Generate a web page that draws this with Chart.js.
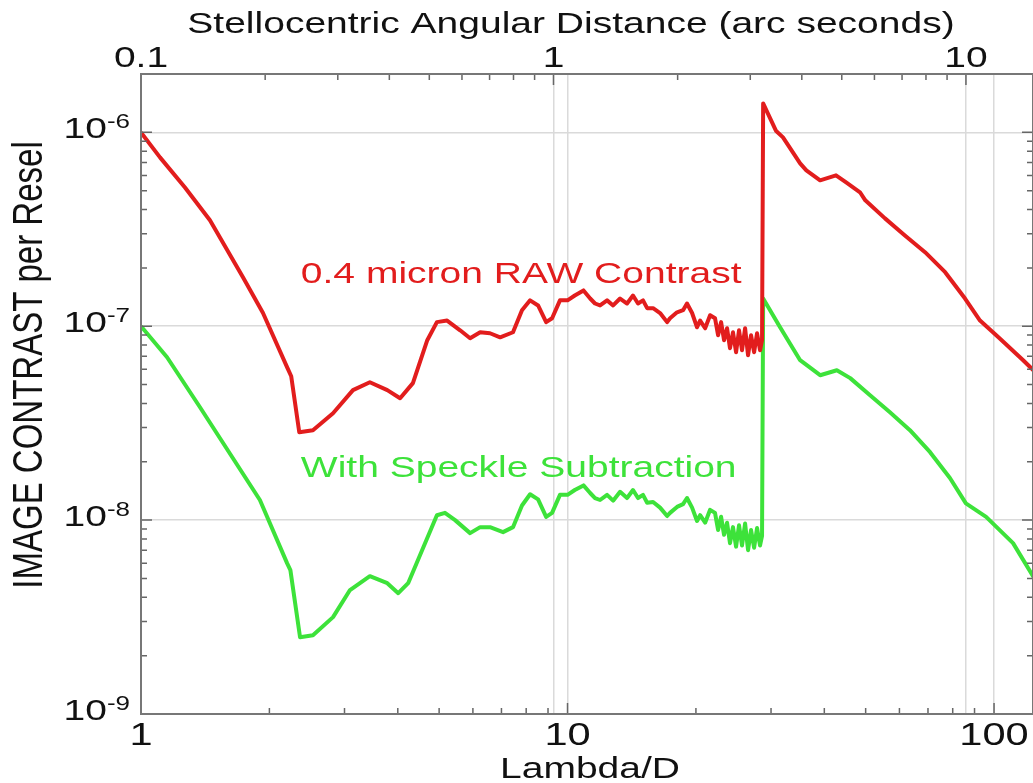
<!DOCTYPE html>
<html>
<head>
<meta charset="utf-8">
<script src="https://cdn.jsdelivr.net/npm/chart.js@4.4.1/dist/chart.umd.min.js"></script>
<style>
  body { margin: 0; background: #fff; }
  canvas { display: block; }
</style>
</head>
<body>
<canvas id="contrast" width="1033" height="783"></canvas>
<script>
// Data (Lambda/D, contrast per resel)
var rawLam = [1, 1.108, 1.268, 1.451, 1.734, 1.932, 2.20, 2.25, 2.35, 2.53,
  2.82, 3.14, 3.44, 3.78, 4.05, 4.34, 4.69, 4.94, 5.22, 5.60,
  5.91, 6.24, 6.58, 6.95, 7.45, 7.82, 8.17, 8.53, 8.91, 9.20,
  9.60, 10.0, 10.4, 10.9, 11.3, 11.6, 11.92, 12.38, 12.79, 13.28,
  13.79, 14.24, 14.63, 15.03, 15.37, 15.87, 16.48, 17.12, 17.39, 18.06,
  18.66, 19.06, 19.59, 20.12, 20.46, 21.02, 21.59, 22.17, 22.54, 22.91,
  23.28, 23.66, 24.04, 24.43, 24.84, 25.24, 25.65, 26.08, 26.50, 26.93,
  27.38, 27.82, 28.27, 28.58, 28.75, 30.8, 32.0, 35.1, 36.3, 39.1,
  42.6, 45.0, 48.5, 49.9, 55.5, 61.8, 68.9, 76.8, 85.5, 92.7,
  103, 117, 125]
var rawContrast = [1.0e-6, 7.43e-7, 5.2e-7, 3.52e-7, 1.79e-7, 1.17e-7, 6.15e-8, 5.52e-8, 2.84e-8, 2.91e-8,
  3.56e-8, 4.68e-8, 5.14e-8, 4.68e-8, 4.25e-8, 5.09e-8, 8.47e-8, 1.05e-7, 1.07e-7, 9.53e-8,
  8.67e-8, 9.31e-8, 9.2e-8, 8.77e-8, 9.31e-8, 1.21e-7, 1.36e-7, 1.28e-7, 1.05e-7, 1.10e-7,
  1.36e-7, 1.36e-7, 1.44e-7, 1.53e-7, 1.39e-7, 1.31e-7, 1.28e-7, 1.36e-7, 1.28e-7, 1.39e-7,
  1.31e-7, 1.44e-7, 1.31e-7, 1.36e-7, 1.24e-7, 1.24e-7, 1.17e-7, 1.05e-7, 1.10e-7, 1.18e-7,
  1.21e-7, 1.31e-7, 1.17e-7, 9.88e-8, 1.07e-7, 9.76e-8, 1.14e-7, 1.10e-7, 8.99e-8, 1.05e-7,
  8.47e-8, 9.76e-8, 7.70e-8, 9.31e-8, 7.35e-8, 9.54e-8, 7.52e-8, 9.76e-8, 7.09e-8, 8.99e-8,
  7.35e-8, 9.20e-8, 7.52e-8, 8.47e-8, 1.41e-6, 1.02e-6, 9.42e-7, 6.92e-7, 6.37e-7, 5.66e-7,
  6.0e-7, 5.52e-7, 4.91e-7, 4.46e-7, 3.6e-7, 2.94e-7, 2.41e-7, 1.90e-7, 1.39e-7, 1.07e-7,
  8.67e-8, 6.68e-8, 5.79e-8]

var subLam = [1, 1.151, 1.375, 1.772, 1.90, 2.20, 2.24, 2.36, 2.53, 2.82,
  3.09, 3.44, 3.78, 4.01, 4.23, 4.94, 5.16, 5.45, 5.91, 6.24,
  6.58, 7.06, 7.45, 7.82, 8.17, 8.53, 8.91, 9.20, 9.60, 10.0,
  10.4, 10.9, 11.3, 11.6, 11.92, 12.38, 12.79, 13.28, 13.79, 14.24,
  14.63, 15.03, 15.37, 15.87, 16.48, 17.12, 17.39, 18.06, 18.66, 19.06,
  19.59, 20.12, 20.46, 21.02, 21.59, 22.17, 22.54, 22.91, 23.28, 23.66,
  24.04, 24.43, 24.84, 25.24, 25.65, 26.08, 26.50, 26.93, 27.38, 27.82,
  28.27, 28.58, 28.75, 31.5, 35.1, 39.1, 42.8, 46.0, 51.2, 57.0,
  63.5, 70.8, 78.8, 85.9, 95.8, 110.8, 125]
var subContrast = [1.0e-7, 6.92e-8, 3.82e-8, 1.61e-8, 1.27e-8, 6.0e-9, 5.52e-9, 2.49e-9, 2.55e-9, 3.16e-9,
  4.36e-9, 5.14e-9, 4.73e-9, 4.2e-9, 4.73e-9, 1.06e-8, 1.09e-8, 1.0e-8, 8.57e-9, 9.2e-9,
  9.2e-9, 8.67e-9, 9.2e-9, 1.19e-8, 1.36e-8, 1.28e-8, 1.04e-8, 1.09e-8, 1.35e-8, 1.35e-8,
  1.43e-8, 1.51e-8, 1.38e-8, 1.30e-8, 1.27e-8, 1.35e-8, 1.26e-8, 1.40e-8, 1.30e-8, 1.43e-8,
  1.30e-8, 1.35e-8, 1.23e-8, 1.24e-8, 1.16e-8, 1.05e-8, 1.09e-8, 1.17e-8, 1.21e-8, 1.30e-8,
  1.16e-8, 9.9e-9, 1.06e-8, 9.7e-9, 1.13e-8, 1.09e-8, 8.9e-9, 1.04e-8, 8.4e-9, 9.7e-9,
  7.6e-9, 9.2e-9, 7.3e-9, 9.4e-9, 7.4e-9, 9.6e-9, 7.0e-9, 8.9e-9, 7.2e-9, 9.1e-9,
  7.4e-9, 8.3e-9, 1.39e-7, 9.88e-8, 6.68e-8, 5.59e-8, 5.93e-8, 5.4e-8, 4.41e-8, 3.6e-8,
  2.91e-8, 2.24e-8, 1.65e-8, 1.22e-8, 1.04e-8, 7.61e-9, 4.91e-9]

// Tick labels
var bottomLabels = [1, 10, 100]
var topLabels = [0.1, 1, 10]
var yExponents = [-9, -8, -7, -6]

var RED = '#e21d1d'
var GREEN = '#3de23a'
var FONT = '"Liberation Sans", Arial, sans-serif'
var SX = 1.3 // the original text is stretched sideways

function isDecade(v) {
  var l = Math.log10(v)
  return Math.abs(l - Math.round(l)) < 1e-6
}

function gridColor(c) {
  return isDecade(c.tick.value) ? '#dadada' : 'rgba(0,0,0,0)'
}

// 1..9 x 10^n inside [min, max]
function logTicks(min, max) {
  var out = []
  for (var e = Math.floor(Math.log10(min) + 1e-9); Math.pow(10, e) <= max * 1.0001; e++) {
    for (var k = 1; k < 10; k++) {
      var v = k * Math.pow(10, e)
      if (v >= min * 0.9999 && v <= max * 1.0001) out.push(v)
    }
  }
  return out
}

function text(ctx, s, x, y, size, color, align) {
  ctx.save()
  ctx.translate(x, y)
  ctx.scale(SX, 1)
  ctx.font = size + 'px ' + FONT
  ctx.fillStyle = color
  ctx.textAlign = align || 'center'
  ctx.textBaseline = 'alphabetic'
  ctx.fillText(s, 0, 0)
  ctx.restore()
}

function textWidth(ctx, s, size) {
  ctx.save()
  ctx.font = size + 'px ' + FONT
  var w = ctx.measureText(s).width * SX
  ctx.restore()
  return w
}

var frame = {
  id: 'frame',
  afterDraw(chart) {
    var ctx = chart.ctx, a = chart.chartArea
    var x = chart.scales.x, x2 = chart.scales.x2, y = chart.scales.y

    // inward tick marks
    ctx.save()
    ctx.strokeStyle = '#666'
    ctx.lineWidth = 1.5
    ctx.beginPath()
    logTicks(x.min, x.max).forEach(function (v) {
      var p = x.getPixelForValue(v), len = isDecade(v) ? 11 : 6
      ctx.moveTo(p, a.bottom); ctx.lineTo(p, a.bottom - len)
    })
    logTicks(x2.min, x2.max).forEach(function (v) {
      var p = x2.getPixelForValue(v), len = isDecade(v) ? 11 : 6
      ctx.moveTo(p, a.top); ctx.lineTo(p, a.top + len)
    })
    logTicks(y.min, y.max).forEach(function (v) {
      var p = y.getPixelForValue(v), len = isDecade(v) ? 11 : 6
      ctx.moveTo(a.left, p); ctx.lineTo(a.left + len, p)
      ctx.moveTo(a.right, p); ctx.lineTo(a.right - len, p)
    })
    ctx.stroke()

    ctx.strokeStyle = '#777'
    ctx.lineWidth = 2
    ctx.strokeRect(a.left, a.top, a.right - a.left, a.bottom - a.top)
    ctx.restore()

    // tick labels
    bottomLabels.forEach(function (v) {
      text(ctx, String(v), x.getPixelForValue(v), 745, 32, '#111')
    })
    topLabels.forEach(function (v) {
      text(ctx, String(v), x2.getPixelForValue(v), 67, 30, '#111')
    })
    yExponents.forEach(function (e) {
      var p = y.getPixelForValue(Math.pow(10, e))
      var ex = String(e)
      text(ctx, ex, 130, p - 4, 20, '#111', 'right')
      text(ctx, '10', 130 - textWidth(ctx, ex, 20), p + 6, 30, '#111', 'right')
    })

    // axis titles
    text(ctx, 'Stellocentric Angular Distance (arc seconds)', 571, 33, 30, '#111')
    text(ctx, 'Lambda/D', 590, 778, 30, '#111')
    ctx.save()
    ctx.translate(42, 365)
    ctx.scale(SX, 1)
    ctx.rotate(-Math.PI / 2)
    ctx.font = '33px ' + FONT
    ctx.fillStyle = '#111'
    ctx.textAlign = 'center'
    ctx.textBaseline = 'alphabetic'
    ctx.fillText('IMAGE CONTRAST per Resel', 0, 0)
    ctx.restore()

    // curve labels
    text(ctx, '0.4 micron RAW Contrast', x.getPixelForValue(2.37), y.getPixelForValue(1.68e-7), 30, RED, 'left')
    text(ctx, 'With Speckle Subtraction', x.getPixelForValue(2.37), y.getPixelForValue(1.67e-8), 30, GREEN, 'left')
  }
}

function points(xs, ys) {
  return xs.map(function (v, i) { return { x: v, y: ys[i] } })
}

new Chart(document.getElementById('contrast'), {
  type: 'line',
  data: {
    datasets: [{
      label: '0.4 micron RAW Contrast',
      data: points(rawLam, rawContrast),
      borderColor: RED,
      borderWidth: 4,
      borderJoinStyle: 'round',
      pointRadius: 0,
      tension: 0
    }, {
      label: 'With Speckle Subtraction',
      data: points(subLam, subContrast),
      borderColor: GREEN,
      borderWidth: 4,
      borderJoinStyle: 'round',
      pointRadius: 0,
      tension: 0
    }]
  },
  options: {
    responsive: false,
    animation: false,
    devicePixelRatio: 1,
    layout: { padding: 0 },
    plugins: { legend: { display: false }, tooltip: { enabled: false } },
    scales: {
      x: {
        type: 'logarithmic', position: 'bottom', min: 1, max: 123.4,
        ticks: { display: false },
        grid: { color: gridColor, lineWidth: 1.5, drawTicks: false },
        border: { display: false },
        afterFit: function (s) { s.height = 69 }
      },
      x2: {
        type: 'logarithmic', position: 'top', min: 0.1, max: 14.54,
        ticks: { display: false },
        grid: { color: gridColor, lineWidth: 1.5, drawTicks: false },
        border: { display: false },
        afterFit: function (s) { s.height = 74 }
      },
      y: {
        type: 'logarithmic', position: 'left', min: 1e-9, max: 2e-6,
        ticks: { display: false },
        grid: { color: gridColor, lineWidth: 1.5, drawTicks: false },
        border: { display: false },
        afterFit: function (s) { s.width = 141 }
      }
    }
  },
  plugins: [frame]
})
</script>
</body>
</html>
